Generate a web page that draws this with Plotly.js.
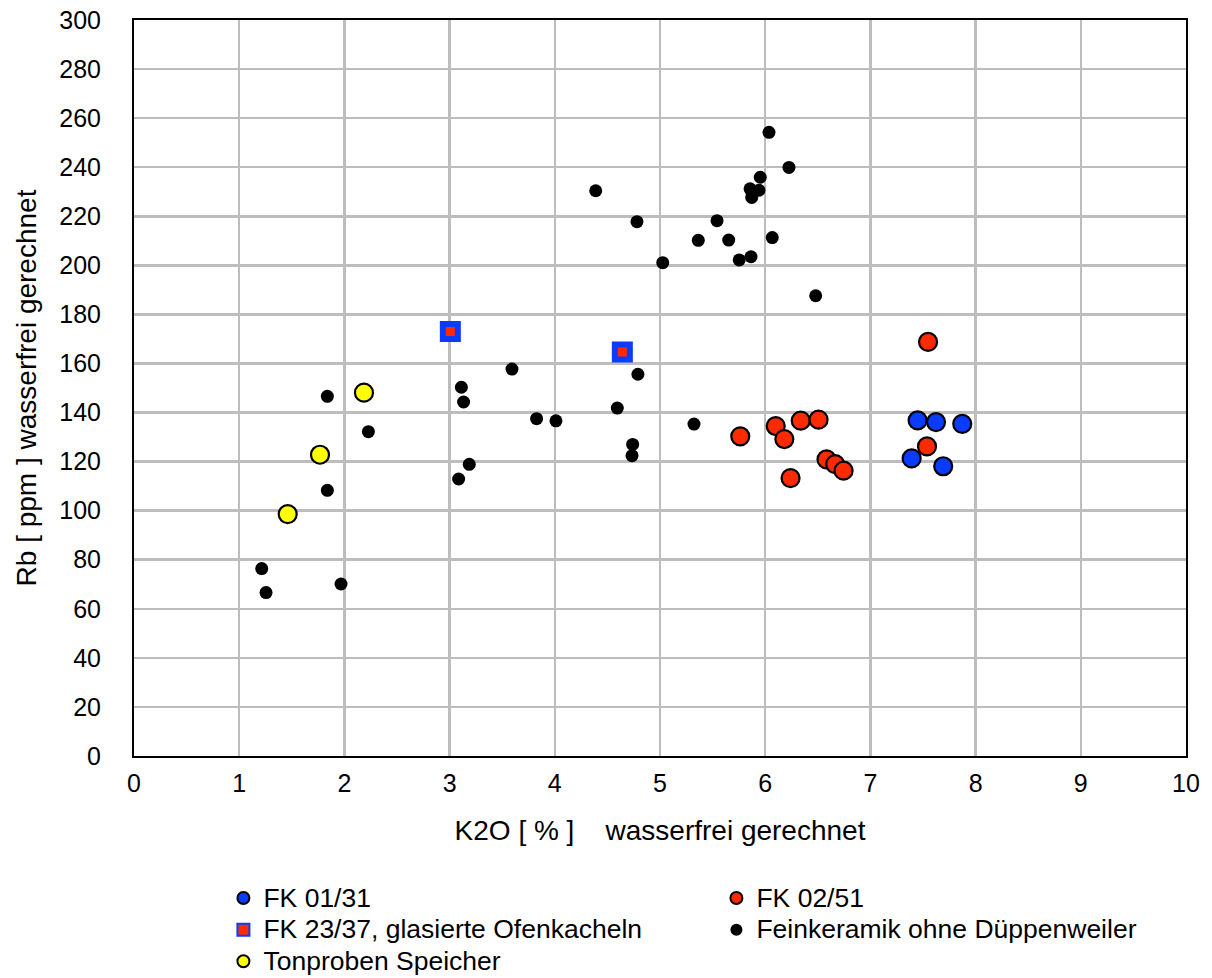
<!DOCTYPE html>
<html><head><meta charset="utf-8">
<script src="https://cdn.plot.ly/plotly-3.0.1.min.js"></script>
<style>body{margin:0;background:#fff}#chart{width:1212px;height:978px}</style>
</head><body><div id="chart"></div>
<script>
// FK 01/31 (blue)
const fk0131_x = [7.449, 7.624, 7.873, 7.392, 7.692];
const fk0131_y = [136.8, 136.1, 135.4, 121.3, 118.1];
// FK 02/51 (red)
const fk0251_x = [7.548, 5.763, 6.100, 6.182, 6.338, 6.507, 6.583, 6.665, 6.745, 6.241, 7.538];
const fk0251_y = [168.8, 130.3, 134.5, 129.2, 136.7, 137.1, 120.9, 119.0, 116.3, 113.3, 126.2];
// FK 23/37 glasierte Ofenkacheln
const fk2337_x = [3.007, 4.642];
const fk2337_y = [173.0, 164.7];
// Feinkeramik ohne Düppenweiler
const fein_x = [1.214, 1.255, 1.968, 1.838, 1.838, 2.228, 3.112, 3.133, 3.086, 3.187, 3.593, 3.827, 4.011, 4.594, 4.740, 4.734, 4.790, 5.323,
  4.389, 4.781, 5.026, 5.364, 5.542, 5.653, 5.753, 5.865, 5.872, 5.856, 5.941, 5.953, 6.036, 6.226, 6.067, 6.480];
const fein_y = [76.4, 66.6, 70.1, 146.6, 108.3, 132.2, 150.3, 144.3, 112.9, 118.9, 157.7, 137.5, 136.6, 141.8, 127.0, 122.4, 155.6, 135.3,
  230.4, 217.8, 201.1, 210.2, 218.2, 210.3, 202.2, 203.5, 227.7, 231.2, 230.6, 235.9, 254.2, 239.9, 211.3, 187.6];
// Tonproben Speicher
const ton_x = [2.186, 1.768, 1.461];
const ton_y = [148.1, 122.8, 98.6];

const xTicks = [0,1,2,3,4,5,6,7,8,9,10];
const yTicks = [0,20,40,60,80,100,120,140,160,180,200,220,240,260,280,300];

const FONT = 'Liberation Sans, Arial, Helvetica, sans-serif';
const lg = s => '<span style="font-size:26.5px">' + s + '</span>';

const traces = [
  {x: fein_x, y: fein_y, name: lg('Feinkeramik ohne Düppenweiler'), mode: 'markers', type: 'scatter', legendrank: 4,
   marker: {color: '#000000', size: 13, line: {width: 0}}},
  {x: ton_x, y: ton_y, name: lg('Tonproben Speicher'), mode: 'markers', type: 'scatter', legendrank: 5,
   marker: {color: '#ffff00', size: 18, line: {color: '#000000', width: 2.2}}},
  {x: fk2337_x, y: fk2337_y, name: lg('FK 23/37, glasierte Ofenkacheln'), mode: 'markers', type: 'scatter', legendrank: 3,
   marker: {symbol: 'square', color: '#ff2a00', size: 15, line: {color: '#0a3cff', width: 6}}},
  {x: fk0251_x, y: fk0251_y, name: lg('FK 02/51'), mode: 'markers', type: 'scatter', legendrank: 2,
   marker: {color: '#ff2a00', size: 18, line: {color: '#000000', width: 2.2}}},
  {x: fk0131_x, y: fk0131_y, name: lg('FK 01/31'), mode: 'markers', type: 'scatter', legendrank: 1,
   marker: {color: '#0a3cff', size: 18, line: {color: '#000000', width: 2.2}}}
];

const layout = {
  width: 1212, height: 978,
  paper_bgcolor: '#ffffff', plot_bgcolor: '#ffffff',
  font: {family: FONT, size: 25, color: '#000000'},
  margin: {l: 134, r: 26, t: 20, b: 222, pad: 0},
  xaxis: {
    range: [0, 10], tickvals: xTicks, ticktext: xTicks.map(String),
    showgrid: true, gridcolor: '#bdbdbd', gridwidth: 2.5, zeroline: false,
    showline: true, linecolor: '#000000', linewidth: 2, mirror: true,
    ticks: '', ticklabelstandoff: 4, tickfont: {size: 25},
    title: {text: 'K2O [ % ]\u00a0\u00a0\u00a0\u00a0wasserfrei gerechnet', font: {size: 28, family: FONT}, standoff: 24}
  },
  yaxis: {
    range: [0, 300], tickvals: yTicks, ticktext: yTicks.map(String),
    showgrid: true, gridcolor: '#bdbdbd', gridwidth: 2.5, zeroline: false,
    showline: true, linecolor: '#000000', linewidth: 2, mirror: true,
    ticks: '', ticklabelstandoff: 26, tickfont: {size: 25},
    title: {text: 'Rb [ ppm ] wasserfrei gerechnet', font: {size: 28, family: FONT}, standoff: 14}
  },
  showlegend: true,
  legend: {
    orientation: 'h', x: 0.085, xanchor: 'left', xref: 'paper',
    y: 0.103, yanchor: 'top', yref: 'container',
    entrywidth: 448, entrywidthmode: 'pixels', traceorder: 'normal',
    font: {size: 22, family: FONT}, itemsizing: 'constant',
    bgcolor: 'rgba(0,0,0,0)'
  }
};

Plotly.newPlot('chart', traces, layout, {displayModeBar: false, staticPlot: true});
</script>
</body></html>
